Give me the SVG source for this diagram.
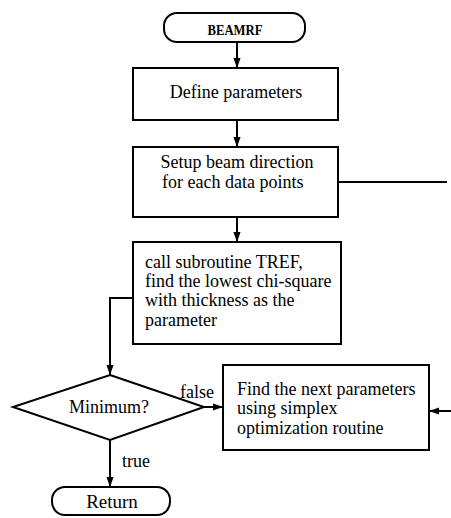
<svg xmlns="http://www.w3.org/2000/svg" width="451" height="518" viewBox="0 0 451 518">
  <style>
    .shape { fill: #fff; stroke: #000; stroke-width: 2; }
    .line { fill: none; stroke: #000; stroke-width: 2; }
    .arr { marker-end: url(#arrow); }
    .mid { text-anchor: middle; }
    .bold { font-weight: bold; font-size: 15px; }
  </style>
  <defs>
    <marker id="arrow" markerWidth="10" markerHeight="12" refX="14" refY="5" viewBox="0 0 14 10" markerUnits="userSpaceOnUse" orient="auto">
      <path d="M0,0 L14,5 L0,10 Z" fill="#000"/>
    </marker>
  </defs>
  <rect width="451" height="518" fill="#fff"/>

  <g font-family="Liberation Serif, Times New Roman, serif" font-size="18" fill="#000">
  <g id="connectors">
    <line class="line arr" x1="237" y1="42" x2="237" y2="68"/>
    <line class="line arr" x1="237" y1="120" x2="237" y2="147"/>
    <line class="line arr" x1="237" y1="217" x2="237" y2="242"/>
    <polyline class="line arr" points="133,298 110,298 110,375"/>
    <line class="line arr" x1="204" y1="407" x2="223" y2="407"/>
    <line class="line arr" x1="110" y1="440" x2="110" y2="487"/>
    <line class="line" x1="338" y1="182" x2="447" y2="182"/>
    <line class="line arr" x1="451" y1="411" x2="429" y2="411"/>
    <text x="180" y="398">false</text>
    <text x="122" y="467">true</text>
  </g>

  <g id="start">
    <rect class="shape" x="164" y="13" width="141" height="29" rx="13"/>
    <text class="mid bold" x="235" y="35" textLength="55" lengthAdjust="spacingAndGlyphs">BEAMRF</text>
  </g>

  <g id="define">
    <rect class="shape" x="133" y="68" width="205" height="52"/>
    <text class="mid" x="236" y="98">Define parameters</text>
  </g>

  <g id="setup">
    <rect class="shape" x="133" y="147" width="205" height="70"/>
    <text class="mid" x="237" y="168">Setup beam direction</text>
    <text x="162" y="188">for each data points</text>
  </g>

  <g id="call">
    <rect class="shape" x="133" y="242" width="208" height="102"/>
    <text x="145" y="268">call subroutine TREF,</text>
    <text x="145" y="287">find the lowest chi-square</text>
    <text x="145" y="306">with thickness as the</text>
    <text x="145" y="326">parameter</text>
  </g>

  <g id="minimum">
    <polygon class="shape" points="110,375 204,407 110,440 13,407"/>
    <text class="mid" x="109" y="413">Minimum?</text>
  </g>

  <g id="next">
    <rect class="shape" x="223" y="365" width="206" height="85"/>
    <text x="237" y="395">Find the next parameters</text>
    <text x="237" y="414">using simplex</text>
    <text x="237" y="434">optimization routine</text>
  </g>

  <g id="return">
    <rect class="shape" x="52" y="487" width="118" height="28" rx="13"/>
    <text class="mid" x="112" y="508" font-size="19">Return</text>
  </g>
  </g>
</svg>
